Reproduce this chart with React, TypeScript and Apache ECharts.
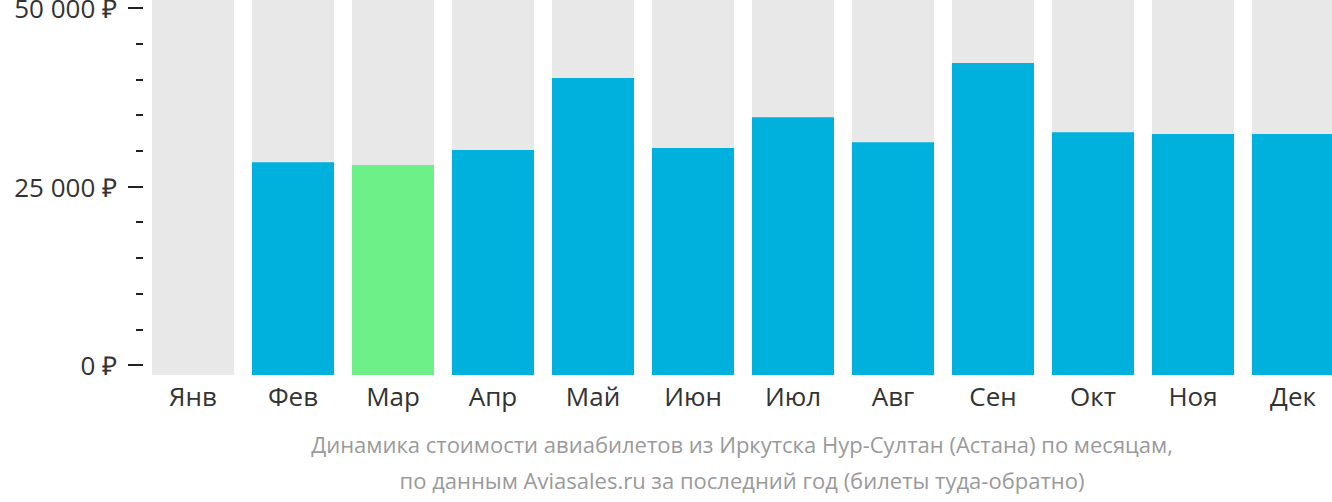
import React, { useEffect, useRef } from "react";
import * as echarts from "echarts";

const months = ["Янв", "Фев", "Мар", "Апр", "Май", "Июн", "Июл", "Авг", "Сен", "Окт", "Ноя", "Дек"];
const prices: (number | null)[] = [null, 28400, 28000, 30100, 40200, 30400, 34700, 31200, 42300, 32600, 32350, 32350];
const cheapestIndex = 2;
const majorTicks = [0, 25000, 50000];
const minorTicks = [0, 5000, 10000, 15000, 20000, 25000, 30000, 35000, 40000, 45000, 50000];
const subtitleLines = [
  "Динамика стоимости авиабилетов из Иркутска Нур-Султан (Астана) по месяцам,",
  "по данным Aviasales.ru за последний год (билеты туда-обратно)",
];

const Y_MIN = -1400;
const Y_MAX = 51120;

const fmt = (v: number) => String(Math.round(v)).replace(/\B(?=(\d{3})+(?!\d))/g, " ") + " ₽";

export default function App() {
  const ref = useRef<HTMLDivElement>(null);
  useEffect(() => {
    if (!ref.current) return;
    const chart = echarts.init(ref.current, null, { renderer: "svg" });
    const baseY = {
      type: "value" as const,
      min: Y_MIN,
      max: Y_MAX,
      splitLine: { show: false },
      axisLine: { show: false },
    };
    chart.setOption({
      animation: false,
      grid: { left: 143, top: 0, width: 1200, height: 375, outerBoundsMode: "none", containLabel: false },
      xAxis: {
        type: "category",
        data: months,
        axisLine: { show: false },
        axisTick: { show: false },
        axisLabel: { color: "#333", fontSize: 26, fontFamily: "Open Sans", margin: 8 },
      },
      yAxis: [
        {
          ...baseY,
          axisTick: { show: true, customValues: minorTicks, length: 7, lineStyle: { color: "#222", width: 2 } },
          axisLabel: { show: false },
        },
        {
          ...baseY,
          position: "left",
          axisTick: { show: true, customValues: majorTicks, length: 15, lineStyle: { color: "#222", width: 2 } },
          axisLabel: {
            show: true,
            customValues: majorTicks,
            formatter: (v: number) => fmt(v),
            color: "#333",
            fontSize: 26,
            fontFamily: "Open Sans",
            margin: 26,
          },
        },
      ],
      series: [
        {
          type: "custom",
          yAxisIndex: 0,
          data: prices.map((p, i) => [i, p == null ? NaN : p]),
          encode: { x: 0, y: 1 },
          renderItem: (params: any, api: any) => {
            const idx = api.value(0);
            const v = api.value(1);
            const cs = params.coordSys;
            const cx = api.coord([idx, 0])[0];
            const bw = api.size([1, 0])[0] * 0.82;
            const bottom = api.coord([idx, Y_MIN])[1];
            const children: any[] = [
              {
                type: "rect",
                shape: { x: cx - bw / 2, y: cs.y, width: bw, height: bottom - cs.y },
                style: { fill: "#e8e8e8" },
              },
            ];
            if (!isNaN(v)) {
              const top = api.coord([idx, v])[1];
              children.push({
                type: "rect",
                shape: { x: cx - bw / 2, y: top, width: bw, height: bottom - top },
                style: { fill: params.dataIndex === cheapestIndex ? "#6cf087" : "#00b1dd" },
              });
            }
            return { type: "group", children };
          },
        },
      ],
      graphic: subtitleLines.map((t, i) => ({
        type: "text",
        x: 742,
        y: 444 + i * 36,
        style: {
          text: t,
          fill: "#9a9a9a",
          fontSize: 22,
          fontFamily: "Open Sans",
          align: "center",
          verticalAlign: "middle",
        },
      })),
    });
    return () => chart.dispose();
  }, []);
  return <div ref={ref} style={{ width: 1332, height: 502, position: "absolute", left: 0, top: 0 }} />;
}
